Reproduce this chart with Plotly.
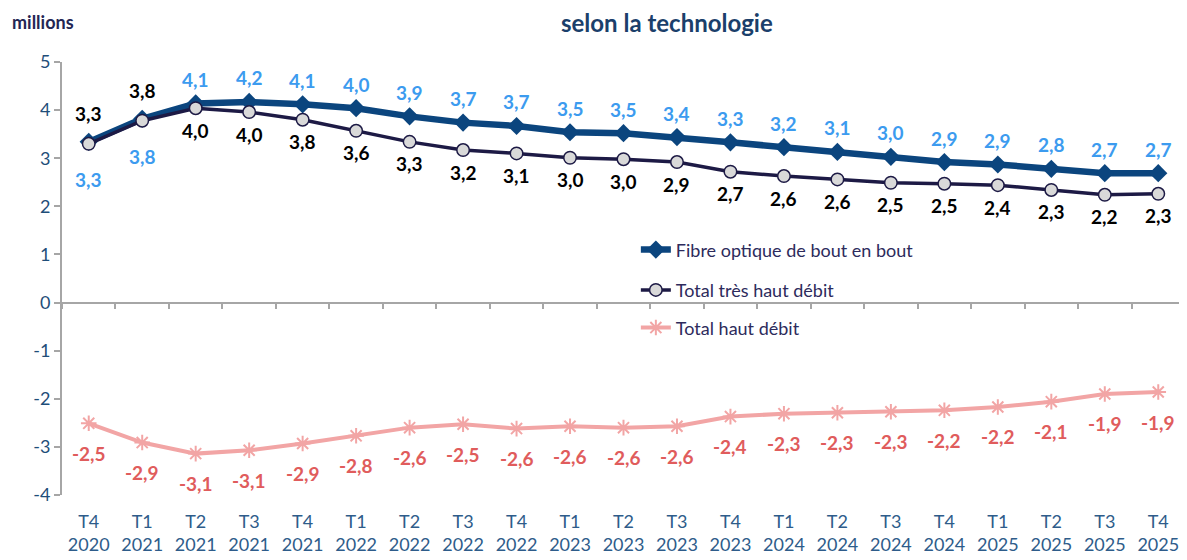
import plotly.graph_objects as go

# ---- data ----
quarters = ["T4", "T1", "T2", "T3", "T4", "T1", "T2", "T3", "T4", "T1", "T2",
            "T3", "T4", "T1", "T2", "T3", "T4", "T1", "T2", "T3", "T4"]
years = ["2020", "2021", "2021", "2021", "2021", "2022", "2022", "2022", "2022",
         "2023", "2023", "2023", "2023", "2024", "2024", "2024", "2024",
         "2025", "2025", "2025", "2025"]
fibre = [3.34, 3.82, 4.14, 4.17, 4.12, 4.04, 3.87, 3.74, 3.67, 3.54, 3.52,
         3.44, 3.33, 3.23, 3.13, 3.03, 2.92, 2.87, 2.78, 2.69, 2.69]
thd = [3.30, 3.78, 4.04, 3.96, 3.80, 3.57, 3.34, 3.17, 3.10, 3.01, 2.98,
       2.92, 2.72, 2.63, 2.56, 2.49, 2.47, 2.44, 2.34, 2.24, 2.26]
hd = [-2.51, -2.91, -3.14, -3.07, -2.93, -2.77, -2.60, -2.53, -2.62, -2.57, -2.60,
      -2.57, -2.37, -2.31, -2.29, -2.27, -2.24, -2.17, -2.06, -1.90, -1.86]
y_tickvals = [-4, -3, -2, -1, 0, 1, 2, 3, 4, 5]
y_ticktext = ["-4", "-3", "-2", "-1", "0", "1", "2", "3", "4", "5"]
series_names = ["Fibre optique de bout en bout", "Total très haut débit", "Total haut débit"]

cats = [f"{q}<br>{y}" for q, y in zip(quarters, years)]


def fmt(v):
    return f"{v:.1f}".replace(".", ",")


FONT = "Lato"
C_FIBRE = "#0B457E"
C_FIBRE_LBL = "#3C9BEF"
C_THD = "#1D1A45"
C_HD = "#F2A5A5"
C_HD_LBL = "#E05C5C"
AXIS_GRAY = "#A6A6A6"
LEG_TXT = "#2D2B5C"
LBL_SIZE = 19
PAGE_OFFSET = 8  # default body margin of the HTML page

fig = go.Figure()

fig.add_trace(go.Scatter(
    x=cats, y=hd, name=series_names[2], mode="lines+markers",
    line=dict(color=C_HD, width=4),
    marker=dict(symbol="asterisk-open", size=13, line=dict(color=C_HD, width=2), color=C_HD),
    legend="legend3"))
fig.add_trace(go.Scatter(
    x=cats, y=fibre, name=series_names[0], mode="lines+markers",
    line=dict(color=C_FIBRE, width=6.5),
    marker=dict(symbol="diamond", size=14, color=C_FIBRE),
    legend="legend"))
fig.add_trace(go.Scatter(
    x=cats, y=thd, name=series_names[1], mode="lines+markers",
    line=dict(color=C_THD, width=3.5),
    marker=dict(symbol="circle", size=12.5, color="#D9D9D9", line=dict(color=C_THD, width=1.5)),
    legend="legend2"))
# dummy trace for the zero-line category axis
fig.add_trace(go.Scatter(x=cats, y=[None] * len(cats), xaxis="x2", showlegend=False,
                         hoverinfo="skip", mode="lines"))

annotations = []
for i, c in enumerate(cats):
    swap = i < 2
    annotations.append(dict(x=c, y=fibre[i], text=f"<b>{fmt(fibre[i])}</b>",
                            yshift=(-38 if swap else 24), showarrow=False,
                            yanchor="middle", font=dict(family=FONT, size=LBL_SIZE, color=C_FIBRE_LBL)))
    annotations.append(dict(x=c, y=thd[i], text=f"<b>{fmt(thd[i])}</b>",
                            yshift=(30 if swap else -22), showarrow=False,
                            yanchor="middle", font=dict(family=FONT, size=LBL_SIZE, color="#000000")))
    annotations.append(dict(x=c, y=hd[i], text=f"<b>{fmt(hd[i])}</b>",
                            yshift=-30, showarrow=False,
                            yanchor="middle", font=dict(family=FONT, size=LBL_SIZE, color=C_HD_LBL)))

annotations.append(dict(xref="paper", yref="paper", x=0.539, y=1.092, xanchor="center",
                        yanchor="middle", showarrow=False,
                        text="<b>selon la technologie</b>",
                        font=dict(family=FONT, size=24, color="#1B3F6B")))
annotations.append(dict(xref="paper", yref="paper", x=-0.0463, y=1.092, xanchor="left",
                        yanchor="middle", showarrow=False, text="<b>millions</b>",
                        font=dict(family=FONT, size=18, color="#232654")))

leg_common = dict(xref="paper", yref="paper", xanchor="left", yanchor="middle",
                  bgcolor="rgba(0,0,0,0)", font=dict(family=FONT, size=18, color=LEG_TXT))

fig.update_layout(
    width=1187 - PAGE_OFFSET, height=560 - PAGE_OFFSET,
    margin=dict(l=62 - PAGE_OFFSET, r=2, t=62 - PAGE_OFFSET, b=65, autoexpand=False),
    paper_bgcolor="white", plot_bgcolor="white",
    font=dict(family=FONT),
    showlegend=True,
    annotations=annotations,
    legend=dict(x=0.511, y=0.566, **leg_common),
    legend2=dict(x=0.511, y=0.473, **leg_common),
    legend3=dict(x=0.511, y=0.386, **leg_common),
    xaxis=dict(type="category", range=[-0.5, len(cats) - 0.5], showline=False,
               showgrid=False, zeroline=False, ticks="", automargin=False,
               tickfont=dict(family=FONT, size=18, color="#2E5C8A"),
               ticklabelstandoff=14),
    xaxis2=dict(type="category", overlaying="x", anchor="free", position=4 / 9,
                range=[-0.5, len(cats) - 0.5], showline=True, linecolor=AXIS_GRAY,
                linewidth=2, ticks="outside", tickson="boundaries", ticklen=5,
                tickwidth=2, tickcolor=AXIS_GRAY, showticklabels=False, showgrid=False,
                zeroline=False, side="bottom", automargin=False),
    yaxis=dict(range=[-4, 5], tickvals=y_tickvals, ticktext=y_ticktext,
               showline=True, linecolor=AXIS_GRAY, linewidth=2, ticks="outside",
               ticklen=6, tickwidth=2, tickcolor=AXIS_GRAY, showgrid=False,
               zeroline=False, automargin=False,
               tickfont=dict(family=FONT, size=18, color="#1F4E79")),
)

fig.write_html("out.html")
